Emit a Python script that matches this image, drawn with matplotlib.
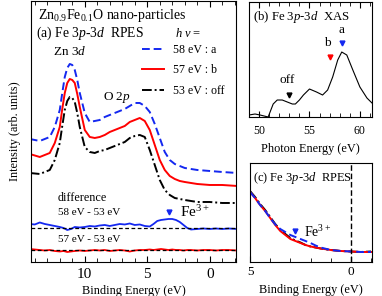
import numpy as np
import matplotlib
matplotlib.use("Agg")
import matplotlib.pyplot as plt

plt.rcParams['font.family'] = ['Liberation Serif', 'DejaVu Serif']
plt.rcParams['mathtext.fontset'] = 'custom'
plt.rcParams['mathtext.rm'] = 'Liberation Serif'
plt.rcParams['mathtext.it'] = 'Liberation Serif:italic'

## (a) valence band RPES spectra (arb. units, offsets included)
be = [14.4, 13.6, 12.8, 12.4, 12.0, 11.8, 11.6, 11.4, 11.2, 11.0, 10.8, 10.6, 10.4,
      10.0, 9.6, 9.2, 8.8, 8.4, 8.0, 7.6, 7.2, 6.8, 6.4, 6.0, 5.6, 5.2, 4.8, 4.4,
      4.0, 3.6, 3.2, 2.8, 2.4, 2.0, 1.5, 1.0, 0.0, -1.0, -2.2]
int_58 = [123, 121, 125, 135, 152, 169, 185, 194, 198, 197, 192, 182, 169,
          149, 140, 141, 142, 145, 147, 149, 151, 153, 156, 159, 159, 156, 150, 138,
          124, 110, 102, 98, 96, 94, 93, 92, 91, 90, 89]
int_57 = [108, 105, 109, 119, 135, 153, 169, 179, 183, 182, 179, 168, 155,
          132, 125, 124, 125, 127, 130, 132, 134, 136, 140, 142, 144, 141, 132, 117,
          102, 92, 86, 83, 81, 80, 79, 78, 77, 77, 76]
int_53 = [89, 88, 92, 102, 119, 136, 152, 161, 165, 164, 160, 149, 135,
          115, 110, 109, 111, 112, 114, 116, 118, 120, 124, 126, 127, 125, 112, 97,
          82, 72, 67, 64, 63, 62, 61, 60, 60, 59, 59]

# difference spectra
diff_be = [14.4, 14.0, 13.6, 13.2, 12.8, 12.4, 12.0, 11.7, 11.4, 11.1, 10.8,
           10.4, 10.0, 9.6, 9.2, 8.8, 8.4, 8.0, 7.6, 7.2, 6.8, 6.4, 6.0, 5.6, 5.2, 4.8,
           4.5, 4.2, 3.9, 3.6, 3.3, 3.0, 2.7, 2.4, 2.1, 1.8, 1.5,
           1.0, 0.5, 0.0, -0.5, -1.0, -1.5, -2.2]
diff_58 = [38, 37.5, 39.5, 38, 37, 36, 35, 34, 32, 33, 35,
           34.5, 35, 36, 35.5, 36.5, 37, 36, 37, 38, 37.5, 38.5, 37, 37.5, 36, 35.5,
           38, 41, 42, 42.5, 43, 43, 42, 40, 37, 34, 32.5,
           33, 33.5, 33, 33.5, 33, 33.5, 33]
diff_57 = [13, 12.5, 12, 11.5, 12, 11, 10.5, 11, 10, 10.5, 11,
           11.5, 11, 11.5, 12, 11.5, 12, 11, 11.5, 12, 11.5, 10.5, 11.5, 12, 12, 12.5,
           12, 12.5, 13, 12.5, 12, 12.5, 12, 12, 11.5, 12, 12,
           11.5, 12, 12, 11.5, 12, 12, 11.5]
base_58 = 33.5
base_57 = 12
fe3_be_a, fe3_int_a = 3.3, 50

## (b) XAS
xas_e = [49.0, 49.6, 50.1, 50.5, 50.9, 51.4, 51.8, 52.3, 52.8, 53.3, 53.6, 54.0,
         54.4, 55.0, 55.7, 56.3, 56.8, 57.3, 57.8, 58.2, 58.7, 59.3, 60.0, 60.7, 61.2]
xas_int = [2, 3, 2, 1, 0, 13, 17, 17, 15, 13, 13, 17,
           22, 28, 25, 22, 27, 40, 57, 65, 62, 47, 30, 19, 14]
mark_e = [58.2, 57.0, 53.0]
mark_int = [74, 60, 22]
mark_lab = ['a', 'b', 'off']
mark_lab_pos = [(58.2, 87), (56.8, 74), (52.8, 37)]

## (c) near E_F
c_be = [5.0, 4.75, 4.5, 4.25, 4.0, 3.75, 3.5, 3.25, 3.0, 2.75, 2.5, 2.25, 2.0,
        1.75, 1.5, 1.0, 0.5, 0.0, -0.5, -1.0]
c_57 = [70, 64, 57, 51, 44, 37, 31, 27, 23, 21, 19, 17, 15.5, 14.5, 13.5, 12, 11, 10.5, 10, 10]
c_53 = [71, 65, 58, 52, 45, 38, 32, 28, 24, 21.5, 19.5, 17, 15.5, 14.5, 13.5, 12, 11, 10.5, 10, 10.5]
c_58 = [70, 64, 57, 51, 44, 37.5, 33, 30, 27, 25, 23, 21, 19, 16.5, 14.5, 12, 11, 10.5, 10, 10]
fe3_be_c, fe3_int_c = 2.77, 31

BLUE = '#1428f0'
RED = '#ff0000'
lw = 1.4

fig = plt.figure(figsize=(3.82, 2.96), dpi=100)
ax_a = fig.add_axes([0.0812, 0.1149, 0.5366, 0.8818])
ax_b = fig.add_axes([0.6518, 0.6047, 0.322, 0.3885])
ax_c = fig.add_axes([0.6545, 0.1149, 0.3194, 0.3345])

# --- (a) ---
l58, = ax_a.plot(be, int_58, color=BLUE, ls=(0, (4, 2)), lw=lw, label='58 eV : a')
l57, = ax_a.plot(be, int_57, color=RED, lw=lw, label='57 eV : b')
l53, = ax_a.plot(be, int_53, color='black', ls=(0, (5, 1.5, 1, 1.5)), lw=lw, label='53 eV : off')
ax_a.plot(diff_be, diff_58, color=BLUE, lw=1.3)
ax_a.plot(diff_be, diff_57, color=RED, lw=1.3)
ax_a.axhline(base_58, color='black', ls=(0, (3, 2)), lw=0.9)
ax_a.axhline(base_57, color='black', ls=(0, (3, 2)), lw=0.9)
ax_a.plot([fe3_be_a], [fe3_int_a], marker='v', color=BLUE, ms=3.5, ls='none')

ax_a.set_xlim(14.3, -2.1)
ax_a.set_ylim(0, 261)
ax_a.set_xticks([10, 5, 0])
ax_a.set_xticks(np.arange(-2, 15, 1), minor=True)
ax_a.tick_params(which='both', direction='in', top=True, left=False, labelleft=False,
                 labelsize=11, pad=4)
ax_a.tick_params(which='major', length=4)
ax_a.tick_params(which='minor', length=3)
ax_a.set_xlabel('Binding Energy (eV)', fontsize=8.8, labelpad=3)
ax_a.set_ylabel('Intensity (arb. units)', fontsize=8.8, labelpad=7)

ax_a.text(0.034, 0.9425, 'Zn$_{0.9}$Fe$_{0.1}$O nano-particles', transform=ax_a.transAxes,
          fontsize=10, va='center', ha='left')
ax_a.text(0.024, 0.877, '(a) Fe 3$\\mathit{p}$-3$\\mathit{d}$  RPES', transform=ax_a.transAxes,
          fontsize=9.8, va='center', ha='left')
ax_a.text(0.70, 0.877, '$h\\ \\nu$ =', transform=ax_a.transAxes,
          fontsize=9, va='center', ha='left')
ax_a.text(0.19, 0.805, 'Zn 3$\\mathit{d}$', transform=ax_a.transAxes,
          fontsize=9.5, va='center', ha='center')
ax_a.text(0.42, 0.632, 'O 2$\\mathit{p}$', transform=ax_a.transAxes,
          fontsize=9.5, va='center', ha='center')
ax_a.text(0.132, 0.245, 'difference', transform=ax_a.transAxes,
          fontsize=8.7, va='center', ha='left')
ax_a.text(0.132, 0.188, '58 eV - 53 eV', transform=ax_a.transAxes,
          fontsize=8, va='center', ha='left')
ax_a.text(0.132, 0.088, '57 eV - 53 eV', transform=ax_a.transAxes,
          fontsize=8, va='center', ha='left')
ax_a.text(0.727, 0.19, 'Fe$^{3+}$', transform=ax_a.transAxes,
          fontsize=11, va='center', ha='left')

ax_a.legend(handles=[l58, l57, l53], loc='upper left', bbox_to_anchor=(0.54, 0.835),
            frameon=False, fontsize=8.6, handlelength=1.9, handletextpad=0.75,
            labelspacing=0.7, borderpad=0, borderaxespad=0)

# --- (b) ---
ax_b.plot(xas_e, xas_int, color='black', lw=0.8)
for e, i, c in zip(mark_e, mark_int, [BLUE, RED, 'black']):
    ax_b.plot([e], [i], marker='v', color=c, ms=3.5, ls='none')
for lab, (e, i) in zip(mark_lab, mark_lab_pos):
    ax_b.text(e, i, lab, fontsize=9.5, ha='center', va='center')
ax_b.set_xlim(49.0, 61.2)
ax_b.set_ylim(0, 115)
ax_b.set_xticks([50, 55, 60])
ax_b.set_xticks(np.arange(49, 62, 1), minor=True)
ax_b.tick_params(which='both', direction='in', top=True, left=False, labelleft=False,
                 labelsize=8.5, pad=6)
ax_b.tick_params(which='major', length=4)
ax_b.tick_params(which='minor', length=3)
ax_b.set_xlabel('Photon Energy (eV)', fontsize=8.8, labelpad=4)
ax_b.text(0.033, 0.87, '(b) Fe 3$\\mathit{p}$-3$\\mathit{d}$  XAS', transform=ax_b.transAxes,
          fontsize=9.2, va='center', ha='left')

# --- (c) ---
ax_c.plot(c_be, c_53, color='black', ls=(0, (5, 1.5, 1, 1.5)), lw=lw)
ax_c.plot(c_be, c_57, color=RED, lw=lw)
ax_c.plot(c_be, c_58, color=BLUE, ls=(0, (4, 2)), lw=lw)
ax_c.axvline(0, color='black', ls=(0, (4, 2)), lw=1.0)
ax_c.plot([fe3_be_c], [fe3_int_c], marker='v', color=BLUE, ms=3.5, ls='none')
ax_c.text(fe3_be_c - 0.45, fe3_int_c - 1, 'Fe$^{3+}$', fontsize=10, va='center', ha='left')
ax_c.set_xlim(5, -1.05)
ax_c.set_ylim(0, 99)
ax_c.set_xticks([5, 0])
ax_c.set_xticks(np.arange(-1, 6, 1), minor=True)
ax_c.tick_params(which='both', direction='in', top=False, left=False, labelleft=False,
                 labelsize=9.5, pad=3)
ax_c.tick_params(which='major', length=4)
ax_c.tick_params(which='minor', length=3)
ax_c.set_xlabel('Binding Energy (eV)', fontsize=8.8, labelpad=4)
ax_c.text(0.025, 0.85, '(c) Fe 3$\\mathit{p}$-3$\\mathit{d}$  RPES', transform=ax_c.transAxes,
          fontsize=9, va='center', ha='left')

for ax in (ax_a, ax_b, ax_c):
    for s in ax.spines.values():
        s.set_linewidth(0.8)

fig.savefig('out.png', dpi=100)
